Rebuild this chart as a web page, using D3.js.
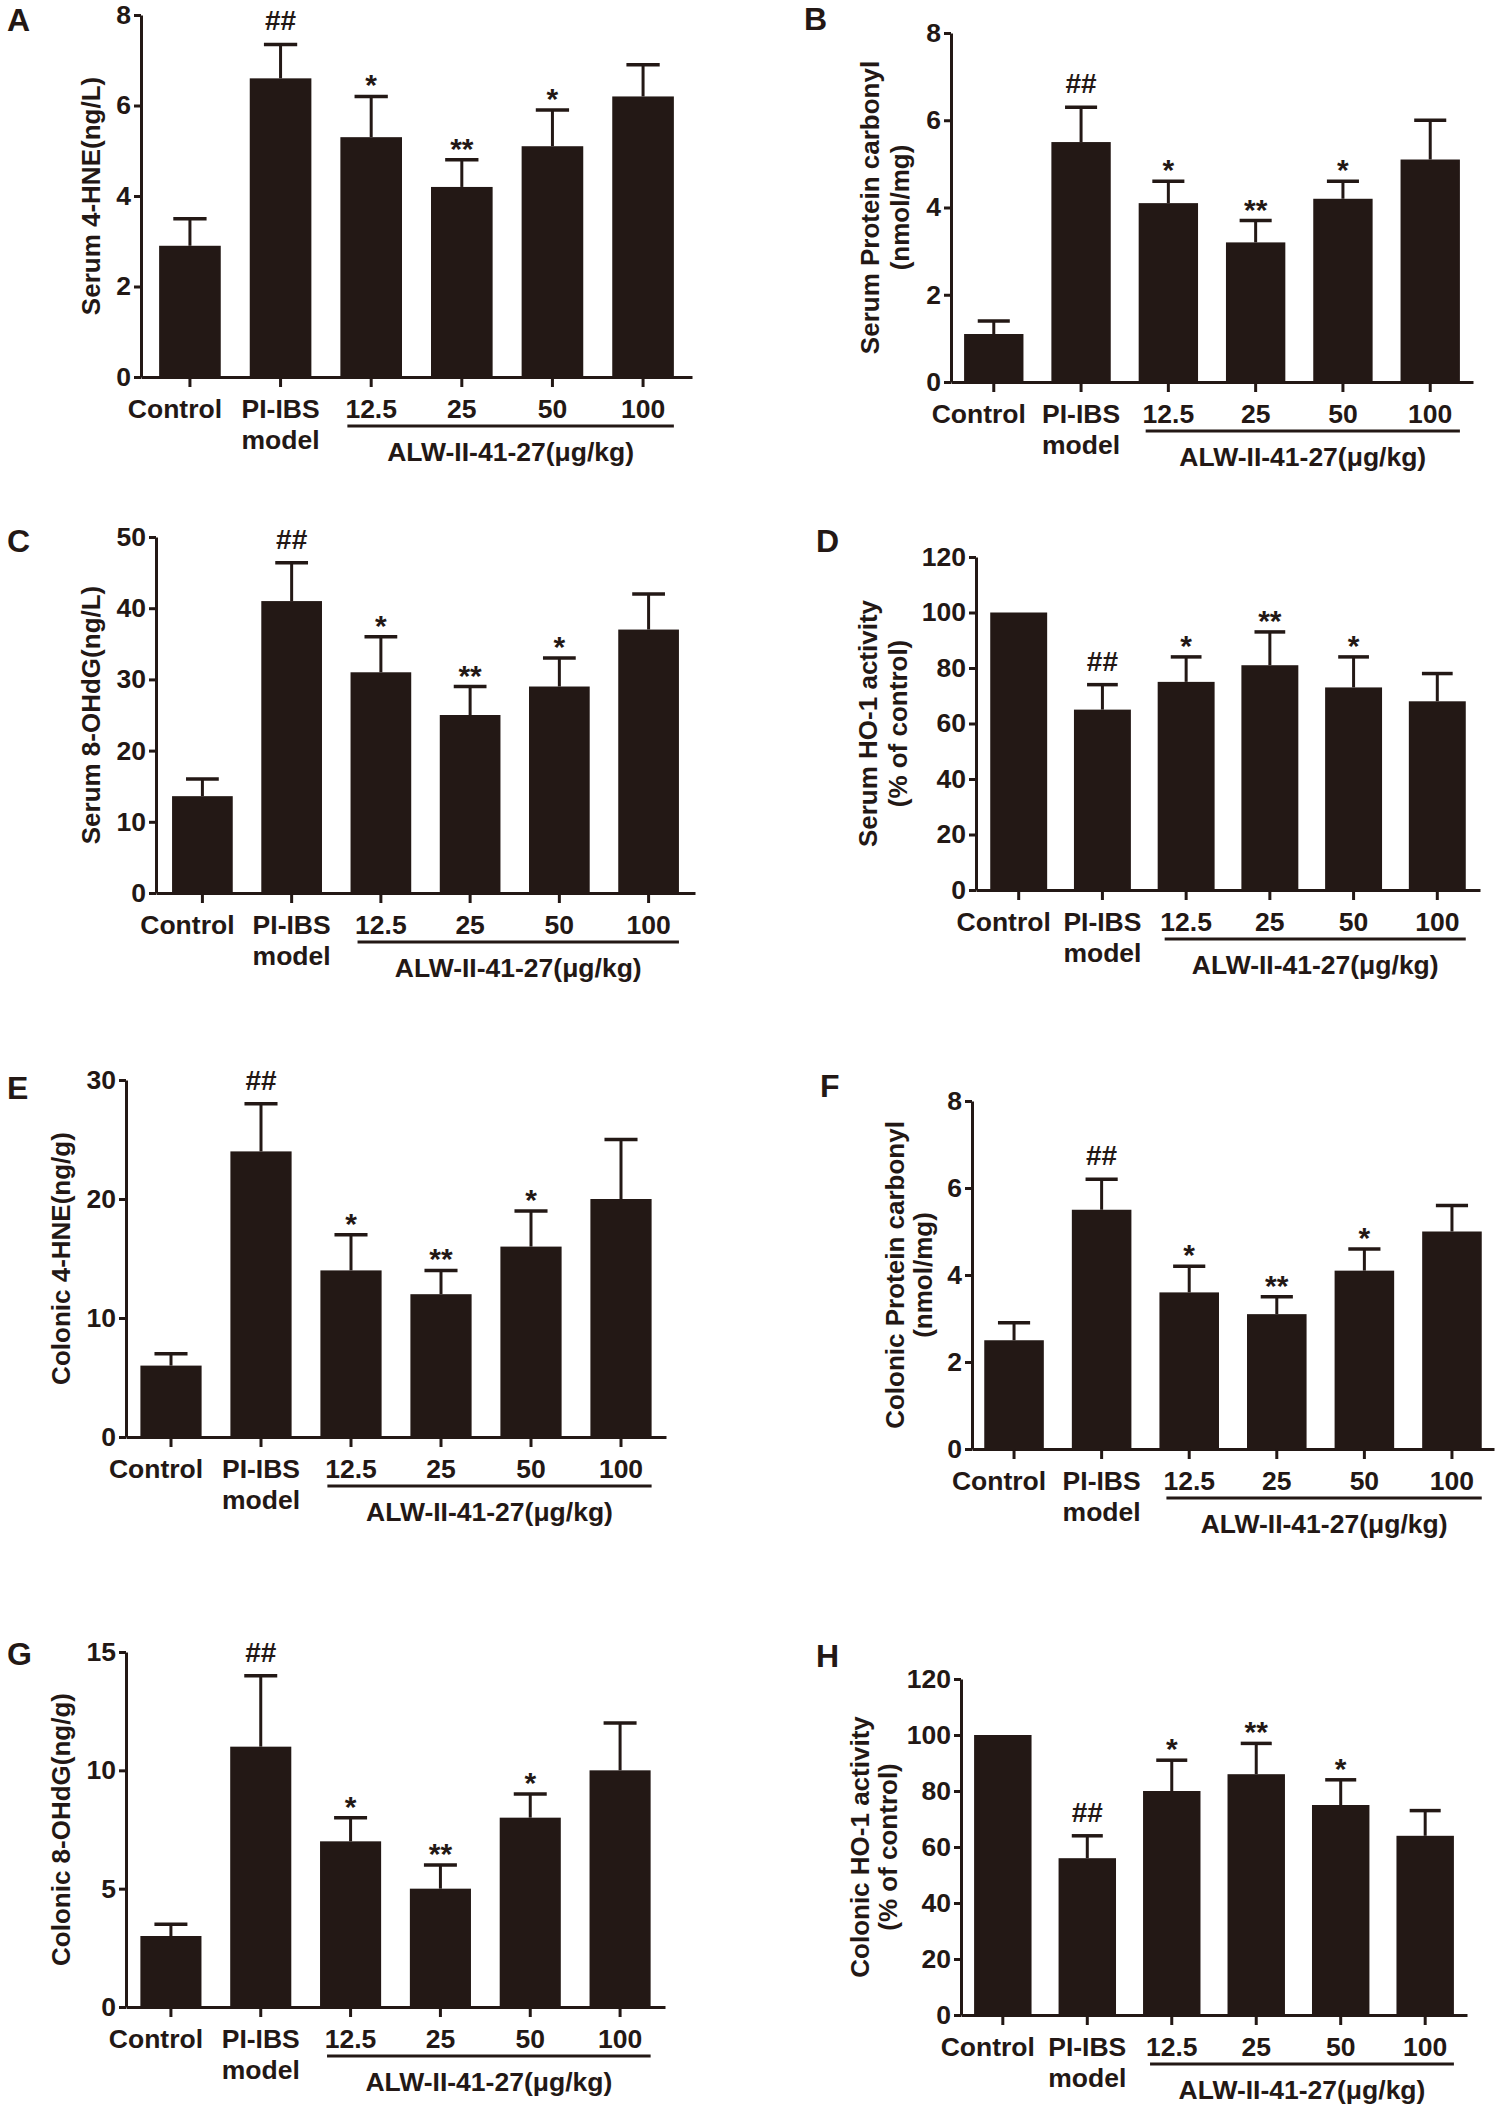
<!DOCTYPE html>
<html>
<head>
<meta charset="utf-8">
<script src="https://cdn.jsdelivr.net/npm/d3@7"></script>
<style>
body{margin:0;background:#fff;}
text{font-family:"Liberation Sans",Arial,sans-serif;font-weight:bold;fill:#231815;}
</style>
</head>
<body>
<script>
var groups = ['Control','PI-IBS','12.5','25','50','100'];
var drugLabel = 'ALW-II-41-27(\u03bcg/kg)';
var marks = ['', '##', '*', '**', '*', ''];

// A serum 4-HNE
var serumHne = [2.9, 6.6, 5.3, 4.2, 5.1, 6.2];
var serumHneErr = [0.6, 0.75, 0.9, 0.6, 0.8, 0.7];
// B serum protein carbonyl
var serumCarb = [1.1, 5.5, 4.1, 3.2, 4.2, 5.1];
var serumCarbErr = [0.3, 0.8, 0.5, 0.5, 0.4, 0.9];
// C serum 8-OHdG
var serumOhdg = [13.6, 41, 31, 25, 29, 37];
var serumOhdgErr = [2.4, 5.4, 5, 4, 4, 5];
// D serum HO-1
var serumHo = [100, 65, 75, 81, 73, 68];
var serumHoErr = [0, 9, 9, 12, 11, 10];
// E colonic 4-HNE
var colonHne = [6, 24, 14, 12, 16, 20];
var colonHneErr = [1, 4, 3, 2, 3, 5];
// F colonic protein carbonyl
var colonCarb = [2.5, 5.5, 3.6, 3.1, 4.1, 5.0];
var colonCarbErr = [0.4, 0.7, 0.6, 0.4, 0.5, 0.6];
// G colonic 8-OHdG
var colonOhdg = [3, 11, 7, 5, 8, 10];
var colonOhdgErr = [0.5, 3, 1, 1, 1, 2];
// H colonic HO-1
var colonHo = [100, 56, 80, 86, 75, 64];
var colonHoErr = [0, 8, 11, 11, 9, 9];

var ticks8 = [0, 2, 4, 6, 8];
var ticks50 = [0, 10, 20, 30, 40, 50];
var ticks120 = [0, 20, 40, 60, 80, 100, 120];
var ticks30 = [0, 10, 20, 30];
var ticks15 = [0, 5, 10, 15];

var ink = '#231815';
var fs = 26.5;

var panels = [
  {tag:'A', mean:serumHne, err:serumHneErr, ticks:ticks8, title:['Serum 4-HNE(ng/L)'],
   left:141, right:692, outer:0.2, top:15, zero:377, lx:7, ly:31, tx:[91]},
  {tag:'B', mean:serumCarb, err:serumCarbErr, ticks:ticks8, title:['Serum Protein carbonyl','(nmol/mg)'],
   left:951, right:1473, outer:0.15, top:33, zero:382, lx:804, ly:30, tx:[870,900]},
  {tag:'C', mean:serumOhdg, err:serumOhdgErr, ticks:ticks50, title:['Serum 8-OHdG(ng/L)'],
   left:156, right:695, outer:0.18, top:537, zero:893, lx:7, ly:552, tx:[91]},
  {tag:'D', mean:serumHo, err:serumHoErr, ticks:ticks120, title:['Serum HO-1 activity','(% of control)'],
   left:976, right:1480, outer:0.17, top:557, zero:890, lx:816, ly:552, tx:[868,898]},
  {tag:'E', mean:colonHne, err:colonHneErr, ticks:ticks30, title:['Colonic 4-HNE(ng/g)'],
   left:126, right:666, outer:0.16, top:1080, zero:1437, lx:7, ly:1099, tx:[61]},
  {tag:'F', mean:colonCarb, err:colonCarbErr, ticks:ticks8, title:['Colonic Protein carbonyl','(nmol/mg)'],
   left:972, right:1494, outer:0.14, top:1101, zero:1449, lx:820, ly:1097, tx:[895,923]},
  {tag:'G', mean:colonOhdg, err:colonOhdgErr, ticks:ticks15, title:['Colonic 8-OHdG(ng/g)'],
   left:126, right:665, outer:0.16, top:1652, zero:2007, lx:7, ly:1665, tx:[61]},
  {tag:'H', mean:colonHo, err:colonHoErr, ticks:ticks120, title:['Colonic HO-1 activity','(% of control)'],
   left:961, right:1467, outer:0.155, top:1679, zero:2015, lx:816, ly:1667, tx:[860,888]}
];

var svg = d3.select('body').append('svg')
  .attr('width', 1499).attr('height', 2104)
  .style('display', 'block');
svg.append('rect').attr('width', 1499).attr('height', 2104).attr('fill', '#fff');

panels.forEach(function(p){
  var g = svg.append('g');
  var x = d3.scaleBand().domain(groups).range([p.left, p.right])
    .paddingInner(0.32).paddingOuter(p.outer);
  var y = d3.scaleLinear().domain([0, p.ticks[p.ticks.length-1]]).range([p.zero, p.top]);
  var bw = x.bandwidth();
  var rows = groups.map(function(k, i){ return {k:k, v:p.mean[i], e:p.err[i], m:marks[i]}; });

  g.selectAll('rect.bar').data(rows).enter().append('rect')
    .attr('class', 'bar')
    .attr('x', d => x(d.k))
    .attr('y', d => y(d.v))
    .attr('width', bw)
    .attr('height', d => y(0) - y(d.v))
    .attr('fill', ink);

  // upper error bars
  var eb = g.selectAll('g.err').data(rows.filter(d => d.e > 0)).enter().append('g').attr('class', 'err');
  eb.append('line')
    .attr('x1', d => x(d.k) + bw/2).attr('x2', d => x(d.k) + bw/2)
    .attr('y1', d => y(d.v)).attr('y2', d => y(d.v + d.e))
    .attr('stroke', ink).attr('stroke-width', 3);
  eb.append('line')
    .attr('x1', d => x(d.k) + bw/2 - bw*0.27).attr('x2', d => x(d.k) + bw/2 + bw*0.27)
    .attr('y1', d => y(d.v + d.e)).attr('y2', d => y(d.v + d.e))
    .attr('stroke', ink).attr('stroke-width', 3.5);

  // significance marks
  g.selectAll('text.mark').data(rows.filter(d => d.m)).enter().append('text')
    .attr('class', 'mark')
    .attr('x', d => x(d.k) + bw/2)
    .attr('y', d => y(d.v + d.e) - (d.m === '##' ? 14 : 1))
    .attr('text-anchor', 'middle')
    .attr('font-size', d => d.m === '##' ? 28 : 30)
    .text(d => d.m);

  // y axis
  var ya = g.append('g').attr('transform', 'translate(' + p.left + ',0)')
    .call(d3.axisLeft(y).tickValues(p.ticks).tickSize(7).tickSizeOuter(0).tickPadding(3));
  ya.select('.domain').attr('stroke', ink).attr('stroke-width', 3);
  ya.selectAll('.tick line').attr('stroke', ink).attr('stroke-width', 3);
  ya.selectAll('.tick text').attr('font-size', fs).attr('fill', ink);

  // x axis
  var xa = g.append('g').attr('transform', 'translate(0,' + p.zero + ')')
    .call(d3.axisBottom(x).tickSize(10).tickSizeOuter(0).tickFormat(''));
  xa.select('.domain').attr('stroke', ink).attr('stroke-width', 3);
  xa.selectAll('.tick line').attr('stroke', ink).attr('stroke-width', 3);

  // category labels
  g.selectAll('text.cat').data(groups).enter().append('text')
    .attr('class', 'cat')
    .attr('x', d => x(d) + bw/2 - (d === 'Control' ? 15 : 0))
    .attr('y', p.zero + 41)
    .attr('text-anchor', 'middle')
    .attr('font-size', fs)
    .text(d => d);
  g.append('text')
    .attr('x', x('PI-IBS') + bw/2).attr('y', p.zero + 72)
    .attr('text-anchor', 'middle').attr('font-size', fs)
    .text('model');

  // dose bracket
  var bx1 = x('12.5') + 7, bx2 = x('100') + bw;
  g.append('line')
    .attr('x1', bx1).attr('x2', bx2)
    .attr('y1', p.zero + 49).attr('y2', p.zero + 49)
    .attr('stroke', ink).attr('stroke-width', 3);
  g.append('text')
    .attr('x', (bx1 + bx2)/2).attr('y', p.zero + 84)
    .attr('text-anchor', 'middle').attr('font-size', fs)
    .text(drugLabel);

  // y title
  var cy = (p.top + p.zero)/2;
  p.title.forEach(function(t, i){
    g.append('text')
      .attr('transform', 'translate(' + p.tx[i] + ',' + cy + ') rotate(-90)')
      .attr('text-anchor', 'middle')
      .attr('dominant-baseline', 'central')
      .attr('font-size', 26)
      .text(t);
  });

  // panel letter
  g.append('text')
    .attr('x', p.lx).attr('y', p.ly)
    .attr('font-size', 32)
    .text(p.tag);
});
</script>
</body>
</html>
